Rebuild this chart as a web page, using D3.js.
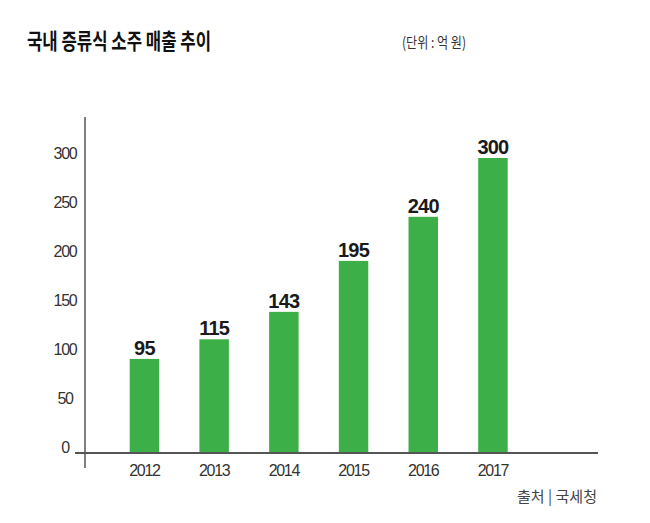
<!DOCTYPE html>
<html>
<head>
<meta charset="utf-8">
<script src="https://cdn.jsdelivr.net/npm/d3@7"></script>
<style>
  body { margin: 0; background: #fff; }
  svg { display: block; }
  text { font-family: "Liberation Sans", Arial, sans-serif; }
  .kr { font-family: "Noto Sans CJK KR", "Noto Sans", sans-serif; }
</style>
</head>
<body>
<svg></svg>
<script>
const years = ['2012', '2013', '2014', '2015', '2016', '2017'];
const sales = [95, 115, 143, 195, 240, 300];
const yTicks = [0, 50, 100, 150, 200, 250, 300];

const width = 650;
const height = 523;

const svg = d3.select('svg')
    .attr('width', width)
    .attr('height', height);

// scales
const x = d3.scaleBand()
    .domain(years)
    .range([109.6, 527.8])
    .paddingInner(0.577)
    .paddingOuter(0.2885);

const y = d3.scaleLinear()
    .domain([0, 300])
    .range([452, 158]);

// title + unit (squeezed to the width of the condensed original font)
svg.append('text')
    .attr('class', 'kr')
    .attr('x', 27)
    .attr('y', 49)
    .attr('font-size', 22)
    .attr('font-weight', 'bold')
    .attr('fill', '#111')
    .attr('textLength', 184)
    .attr('lengthAdjust', 'spacingAndGlyphs')
    .text('국내 증류식 소주 매출 추이');

svg.append('text')
    .attr('class', 'kr')
    .attr('x', 402)
    .attr('y', 48)
    .attr('font-size', 15)
    .attr('fill', '#333')
    .attr('textLength', 64)
    .attr('lengthAdjust', 'spacingAndGlyphs')
    .text('(단위 : 억 원)');

// bars
svg.append('g')
    .selectAll('rect')
    .data(sales)
    .join('rect')
    .attr('x', (d, i) => x(years[i]))
    .attr('y', d => y(d))
    .attr('width', x.bandwidth())
    .attr('height', d => y(0) - y(d))
    .attr('fill', '#3daf48');

// value labels
svg.append('g')
    .selectAll('text')
    .data(sales)
    .join('text')
    .attr('x', (d, i) => x(years[i]) + x.bandwidth() / 2)
    .attr('y', d => y(d) - 4)
    .attr('text-anchor', 'middle')
    .attr('font-size', 20)
    .attr('font-weight', 'bold')
    .attr('letter-spacing', -0.8)
    .attr('fill', '#1a1a1a')
    .text(d => d);

// y axis, labels centred left of the line
const yAxis = d3.axisLeft(y)
    .tickValues(yTicks)
    .tickSize(0)
    .tickPadding(0);

const yg = svg.append('g')
    .attr('transform', 'translate(65,0)')
    .call(yAxis);
yg.select('.domain').remove();
yg.selectAll('text')
    .attr('text-anchor', 'middle')
    .attr('font-family', '"Liberation Sans", Arial, sans-serif')
    .attr('font-size', 16)
    .attr('letter-spacing', -1.3)
    .attr('fill', '#333')
    .attr('dy', '0.05em');

svg.append('line')
    .attr('x1', 85).attr('x2', 85)
    .attr('y1', 117).attr('y2', 468)
    .attr('stroke', '#555')
    .attr('stroke-width', 1.5);

// x axis
const xAxis = d3.axisBottom(x)
    .tickSize(0)
    .tickPadding(13);

const xg = svg.append('g')
    .attr('transform', `translate(0,${y(0)})`)
    .call(xAxis);
xg.select('.domain').remove();
xg.selectAll('text')
    .attr('font-family', '"Liberation Sans", Arial, sans-serif')
    .attr('font-size', 16)
    .attr('letter-spacing', -1.3)
    .attr('fill', '#333');

svg.append('line')
    .attr('x1', 75).attr('x2', 598)
    .attr('y1', y(0) + 1).attr('y2', y(0) + 1)
    .attr('stroke', '#555')
    .attr('stroke-width', 2);

// source
svg.append('text')
    .attr('class', 'kr')
    .attr('x', 517)
    .attr('y', 502)
    .attr('font-size', 15)
    .attr('fill', '#444')
    .attr('textLength', 80)
    .attr('lengthAdjust', 'spacingAndGlyphs')
    .text('출처 | 국세청');
</script>
</body>
</html>
